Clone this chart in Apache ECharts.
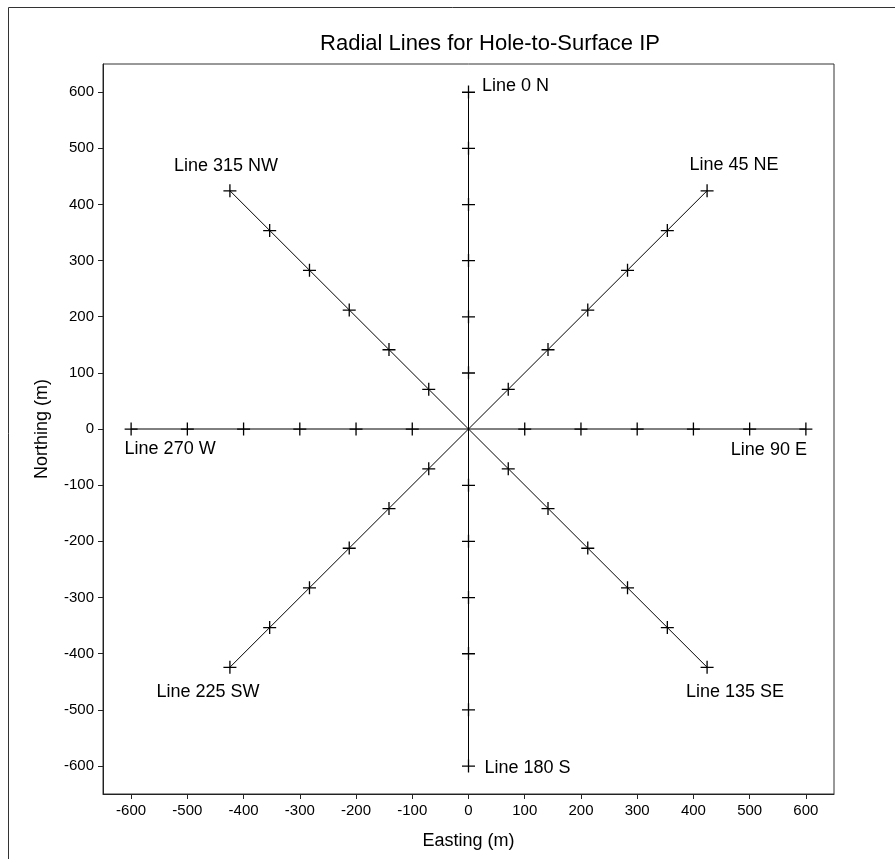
<!DOCTYPE html>
<html>
<head>
<meta charset="utf-8">
<script src="https://cdn.jsdelivr.net/npm/echarts@6/dist/echarts.min.js"></script>
<style>
  html, body { margin: 0; padding: 0; background: #fff; }
  #chart { width: 895px; height: 859px; }
</style>
</head>
<body>
<div id="chart"></div>
<script>
// survey lines, stations (origin first)
const lineNames = ['Line 0 N', 'Line 45 NE', 'Line 90 E', 'Line 135 SE', 'Line 180 S', 'Line 225 SW', 'Line 270 W', 'Line 315 NW'];
const eastings = [
    [0, 0, 0, 0, 0, 0, 0],
    [0, 70.7, 141.4, 212.1, 282.8, 353.6, 424.3],
    [0, 100, 200, 300, 400, 500, 600],
    [0, 70.7, 141.4, 212.1, 282.8, 353.6, 424.3],
    [0, 0, 0, 0, 0, 0, 0],
    [0, -70.7, -141.4, -212.1, -282.8, -353.6, -424.3],
    [0, -100, -200, -300, -400, -500, -600],
    [0, -70.7, -141.4, -212.1, -282.8, -353.6, -424.3]
];
const northings = [
    [0, 100, 200, 300, 400, 500, 600],
    [0, 70.7, 141.4, 212.1, 282.8, 353.6, 424.3],
    [0, 0, 0, 0, 0, 0, 0],
    [0, -70.7, -141.4, -212.1, -282.8, -353.6, -424.3],
    [0, -100, -200, -300, -400, -500, -600],
    [0, -70.7, -141.4, -212.1, -282.8, -353.6, -424.3],
    [0, 0, 0, 0, 0, 0, 0],
    [0, 70.7, 141.4, 212.1, 282.8, 353.6, 424.3]
];
const tickValues = [-600, -500, -400, -300, -200, -100, 0, 100, 200, 300, 400, 500, 600];

// where each line's name sits relative to its last station (px)
const labelOffsets = [[47, -6], [27, -26], [-37, 21], [28, 25], [59, 2], [-22, 25], [39, 20], [-4, -25]];

const FONT = 'Liberation Sans, Arial, sans-serif';
const plusSymbol = 'path://M0,6H13V7.3H0Z M5.85,0H7.15V13H5.85Z';

const chart = echarts.init(document.getElementById('chart'));

const series = lineNames.map(function (name, i) {
    const last = eastings[i].length - 1;
    const data = eastings[i].map(function (x, j) {
        const item = { value: [x, northings[i][j]] };
        if (j === 0) item.symbol = 'none';
        if (j === last) {
            item.label = {
                show: true,
                position: 'inside',
                offset: labelOffsets[i],
                formatter: name,
                fontSize: 18,
                fontFamily: FONT,
                color: '#000'
            };
        }
        return item;
    });
    return {
        name: name,
        type: 'line',
        data: data,
        symbol: plusSymbol,
        symbolSize: 13,
        symbolKeepAspect: true,
        showAllSymbol: true,
        itemStyle: { color: '#000' },
        lineStyle: { color: '#000', width: 1 },
        label: { show: false },
        emphasis: { disabled: true },
        clip: false
    };
});

const axisCommon = {
    type: 'value',
    min: -650,
    max: 650,
    splitLine: { show: false },
    axisLine: { show: true, onZero: false, lineStyle: { color: '#222', width: 1 } },
    axisTick: { show: true, inside: false, length: 5, customValues: tickValues, lineStyle: { color: '#222' } },
    axisLabel: { customValues: tickValues, fontSize: 15, fontFamily: FONT, color: '#000', margin: 9 },
    nameLocation: 'middle',
    nameTextStyle: { fontSize: 18, fontFamily: FONT, color: '#000' }
};

chart.setOption({
    animation: false,
    backgroundColor: '#fff',
    title: {
        text: 'Radial Lines for Hole-to-Surface IP',
        left: 485,
        top: 28,
        textAlign: 'center',
        textStyle: { fontSize: 22, fontWeight: 'normal', fontFamily: FONT, color: '#000' }
    },
    grid: {
        left: 103,
        top: 64,
        right: 61,
        bottom: 65,
        show: true,
        borderColor: '#333',
        borderWidth: 1,
        backgroundColor: 'transparent'
    },
    xAxis: Object.assign({}, axisCommon, { name: 'Easting (m)', nameGap: 38, position: 'bottom' }),
    yAxis: Object.assign({}, axisCommon, { name: 'Northing (m)', nameGap: 52, position: 'left' }),
    graphic: [{
        type: 'rect',
        shape: { x: 8.5, y: 7.5, width: 1000, height: 1000 },
        style: { fill: 'none', stroke: '#333', lineWidth: 1 },
        silent: true
    }],
    series: series
});
</script>
</body>
</html>
